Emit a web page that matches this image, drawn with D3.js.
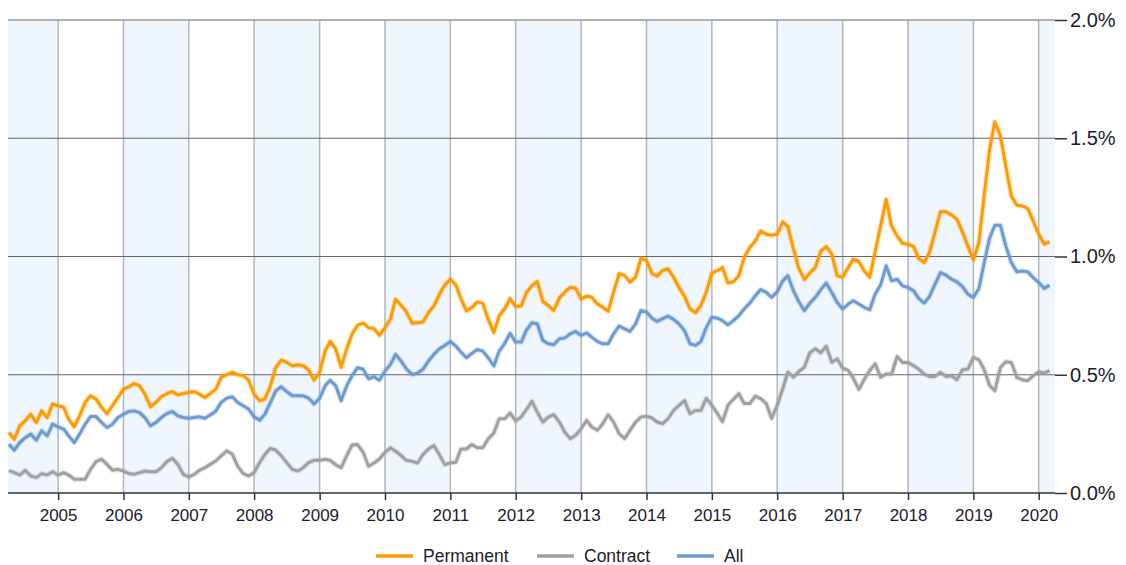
<!DOCTYPE html>
<html>
<head>
<meta charset="utf-8">
<script src="https://cdn.jsdelivr.net/npm/d3@7"></script>
<style>
  body { margin: 0; background: #fff; }
  svg { display: block; font-family: "Liberation Sans", Arial, sans-serif; }
</style>
</head>
<body>
<svg width="1126" height="565"></svg>
<script>
// monthly, Apr 2004 .. Mar 2020 (percent of job ads)
var months = d3.timeMonth.range(new Date(2004, 3, 1), new Date(2020, 3, 1));

var permanent = [
  0.256,0.227,0.284,0.305,0.333,0.298,0.347,0.319,0.376,0.369,0.362,0.312,0.28,0.326,0.383,0.411,
  0.397,0.362,0.336,0.369,0.404,0.439,0.449,0.463,0.453,0.418,0.364,0.383,0.407,0.421,0.429,0.415,
  0.421,0.425,0.429,0.418,0.404,0.421,0.439,0.489,0.50,0.51,0.50,0.496,0.477,0.418,0.39,0.397,
  0.453,0.531,0.562,0.552,0.538,0.542,0.538,0.52,0.477,0.51,0.602,0.641,0.609,0.531,0.609,0.672,
  0.71,0.718,0.699,0.695,0.667,0.699,0.737,0.819,0.794,0.766,0.718,0.72,0.723,0.763,0.791,0.84,
  0.879,0.904,0.879,0.822,0.77,0.784,0.808,0.802,0.734,0.678,0.749,0.78,0.822,0.788,0.791,0.847,
  0.877,0.894,0.81,0.793,0.772,0.824,0.849,0.87,0.866,0.821,0.832,0.828,0.8,0.786,0.768,0.849,
  0.927,0.92,0.892,0.913,0.993,0.983,0.927,0.917,0.941,0.948,0.913,0.87,0.832,0.779,0.762,0.793,
  0.85,0.93,0.94,0.954,0.888,0.893,0.919,0.996,1.038,1.066,1.108,1.094,1.09,1.094,1.146,1.126,
  1.031,0.949,0.904,0.93,0.954,1.024,1.042,1.01,0.919,0.912,0.954,0.989,0.978,0.94,0.912,1.02,1.13,
  1.242,1.13,1.087,1.056,1.052,1.042,0.992,0.975,1.017,1.104,1.189,1.189,1.175,1.158,1.104,
  1.045,0.985,1.06,1.25,1.45,1.57,1.51,1.383,1.256,1.217,1.214,1.203,1.151,1.094,1.052,1.062
];

var contract = [
  0.095,0.086,0.076,0.096,0.072,0.065,0.082,0.076,0.09,0.076,0.086,0.076,0.058,0.058,0.058,0.10,
  0.133,0.143,0.121,0.096,0.10,0.093,0.082,0.079,0.086,0.093,0.09,0.09,0.107,0.133,0.147,0.121,
  0.079,0.068,0.079,0.096,0.107,0.121,0.136,0.157,0.178,0.164,0.114,0.082,0.072,0.086,0.129,0.164,
  0.189,0.181,0.157,0.129,0.10,0.093,0.107,0.129,0.138,0.138,0.143,0.138,0.119,0.107,0.157,0.203,
  0.205,0.172,0.113,0.127,0.144,0.172,0.191,0.177,0.158,0.138,0.134,0.127,0.162,0.186,0.201,0.162,
  0.12,0.127,0.13,0.186,0.186,0.205,0.191,0.191,0.229,0.254,0.314,0.314,0.339,0.304,0.322,0.353,
  0.388,0.342,0.3,0.321,0.331,0.3,0.258,0.23,0.244,0.272,0.307,0.279,0.265,0.293,0.331,0.3,
  0.251,0.23,0.265,0.3,0.321,0.325,0.317,0.3,0.293,0.314,0.349,0.37,0.391,0.335,0.349,0.349,
  0.40,0.371,0.336,0.301,0.371,0.396,0.42,0.378,0.378,0.41,0.399,0.378,0.315,0.371,0.441,0.511,
  0.49,0.514,0.532,0.593,0.61,0.593,0.621,0.553,0.567,0.528,0.518,0.486,0.438,0.48,0.518,0.546,0.49,
  0.503,0.503,0.577,0.552,0.552,0.538,0.524,0.503,0.493,0.493,0.51,0.493,0.496,0.479,0.521,
  0.524,0.573,0.563,0.524,0.456,0.432,0.531,0.555,0.552,0.489,0.479,0.475,0.496,0.513,0.507,0.517
];

var all = [
  0.206,0.181,0.213,0.234,0.249,0.223,0.263,0.242,0.291,0.28,0.27,0.242,0.213,0.249,0.291,0.323,
  0.323,0.298,0.277,0.291,0.319,0.333,0.345,0.347,0.34,0.319,0.284,0.298,0.319,0.336,0.345,0.326,
  0.319,0.316,0.319,0.322,0.316,0.33,0.347,0.383,0.401,0.407,0.383,0.369,0.355,0.322,0.308,0.333,
  0.383,0.432,0.449,0.429,0.411,0.411,0.411,0.401,0.376,0.401,0.453,0.477,0.453,0.39,0.453,0.496,
  0.53,0.523,0.483,0.492,0.477,0.516,0.544,0.586,0.558,0.525,0.501,0.506,0.523,0.558,0.586,0.61,
  0.624,0.641,0.621,0.596,0.572,0.59,0.607,0.6,0.572,0.537,0.6,0.633,0.675,0.638,0.638,0.689,
  0.72,0.715,0.645,0.631,0.627,0.652,0.655,0.673,0.683,0.666,0.677,0.659,0.641,0.631,0.631,0.673,
  0.706,0.694,0.683,0.715,0.772,0.765,0.739,0.725,0.737,0.748,0.734,0.715,0.687,0.631,0.624,0.641,
  0.70,0.743,0.739,0.729,0.711,0.729,0.75,0.778,0.803,0.834,0.86,0.848,0.827,0.851,0.897,0.919,
  0.855,0.809,0.771,0.803,0.827,0.86,0.888,0.848,0.806,0.778,0.799,0.813,0.799,0.785,0.775,0.84,0.88,
  0.961,0.897,0.904,0.876,0.869,0.855,0.823,0.803,0.831,0.883,0.932,0.921,0.904,0.893,0.873,
  0.841,0.827,0.865,0.968,1.076,1.132,1.132,1.045,0.975,0.935,0.939,0.935,0.911,0.89,0.865,0.879
];

var seriesNames = ["Permanent", "Contract", "All"];
var seriesColors = ["#ff9a00", "#a0a0a0", "#6b9bd1"];
var yTicks = [0, 0.5, 1.0, 1.5, 2.0];

var svg = d3.select("svg");
var plotLeft = 8, plotRight = 1055, plotTop = 20, plotBottom = 493;

var x = d3.scaleTime()
  .domain([new Date(2004, 2, 27), new Date(2020, 3, 1)])
  .range([plotLeft, plotRight]);
var y = d3.scaleLinear().domain([0, 2]).range([plotBottom, plotTop]);

// alternating year bands (even years shaded)
var years = d3.range(2004, 2021);
svg.append("g").selectAll("rect")
  .data(years.filter(function(yr) { return yr % 2 == 0; }))
  .enter().append("rect")
  .attr("x", function(yr) { return Math.max(plotLeft, x(new Date(yr, 0, 1))); })
  .attr("width", function(yr) {
    var a = Math.max(plotLeft, x(new Date(yr, 0, 1)));
    var b = Math.min(plotRight, x(new Date(yr + 1, 0, 1)));
    return b - a;
  })
  .attr("y", plotTop)
  .attr("height", plotBottom - plotTop)
  .attr("fill", "#f0f6fe");

// vertical year gridlines
var yearTicks = years.slice(1).map(function(yr) { return new Date(yr, 0, 1); });
svg.append("g").selectAll("line")
  .data(yearTicks)
  .enter().append("line")
  .attr("x1", function(d) { return x(d); })
  .attr("x2", function(d) { return x(d); })
  .attr("y1", plotTop)
  .attr("y2", plotBottom)
  .attr("stroke", "#b3b7bc")
  .attr("stroke-width", 1.5);

// horizontal gridlines
svg.append("g").selectAll("line")
  .data(yTicks.filter(function(t) { return t > 0; }))
  .enter().append("line")
  .attr("x1", plotLeft)
  .attr("x2", plotRight)
  .attr("y1", function(d) { return y(d); })
  .attr("y2", function(d) { return y(d); })
  .attr("stroke", function(d) { return d == 2 ? "#999" : "#666"; })
  .attr("stroke-width", function(d) { return d == 2 ? 1.5 : 1; });

// bottom axis
var xAxis = d3.axisBottom(x)
  .tickValues(yearTicks)
  .tickFormat(d3.timeFormat("%Y"))
  .tickSize(7)
  .tickSizeOuter(0);
var gx = svg.append("g")
  .attr("transform", "translate(0," + plotBottom + ")")
  .call(xAxis);
gx.select(".domain").attr("stroke", "#333").attr("stroke-width", 1.5)
  .attr("d", "M" + plotLeft + ",0H" + plotRight);
gx.selectAll(".tick line").attr("stroke", "#333").attr("stroke-width", 1.5);
gx.selectAll(".tick text")
  .attr("y", 22)
  .attr("dy", "0.35em")
  .attr("fill", "#1c1c2c")
  .style("font-size", "17px")
  .style("font-family", "'Liberation Sans', Arial, sans-serif");

// right axis
var yAxis = d3.axisRight(y)
  .tickValues(yTicks)
  .tickFormat(function(d) { return d3.format(".1f")(d) + "%"; })
  .tickSize(12)
  .tickPadding(3);
var gy = svg.append("g")
  .attr("transform", "translate(" + plotRight + ",0)")
  .call(yAxis);
gy.select(".domain").remove();
gy.selectAll(".tick line").attr("stroke", "#333").attr("stroke-width", 1.5);
gy.selectAll(".tick text")
  .attr("fill", "#1c1c2c")
  .style("font-size", "20px")
  .style("font-family", "'Liberation Sans', Arial, sans-serif");

// lines
var line = d3.line()
  .x(function(d, i) { return x(months[i]); })
  .y(function(d) { return y(d); });

var seriesData = [permanent, contract, all];
var drawOrder = [1, 2, 0];
drawOrder.forEach(function(k) {
  svg.append("path")
    .attr("d", line(seriesData[k]))
    .attr("fill", "none")
    .attr("stroke", seriesColors[k])
    .attr("stroke-opacity", 0.25)
    .attr("stroke-width", 5.5)
    .attr("stroke-linejoin", "round");
  svg.append("path")
    .attr("d", line(seriesData[k]))
    .attr("fill", "none")
    .attr("stroke", seriesColors[k])
    .attr("stroke-width", 3)
    .attr("stroke-linejoin", "round");
});

// legend
var legendX = [376, 537, 677];
var legend = svg.append("g").selectAll("g")
  .data(seriesNames)
  .enter().append("g")
  .attr("transform", function(d, i) { return "translate(" + legendX[i] + ",556)"; });
legend.append("line")
  .attr("x1", 0).attr("x2", 37)
  .attr("stroke", function(d, i) { return seriesColors[i]; })
  .attr("stroke-width", 3.5);
legend.append("text")
  .attr("x", 47)
  .attr("dy", "0.35em")
  .attr("fill", "#1c1c2c")
  .style("font-size", "17.5px")
  .text(function(d) { return d; });
</script>
</body>
</html>
